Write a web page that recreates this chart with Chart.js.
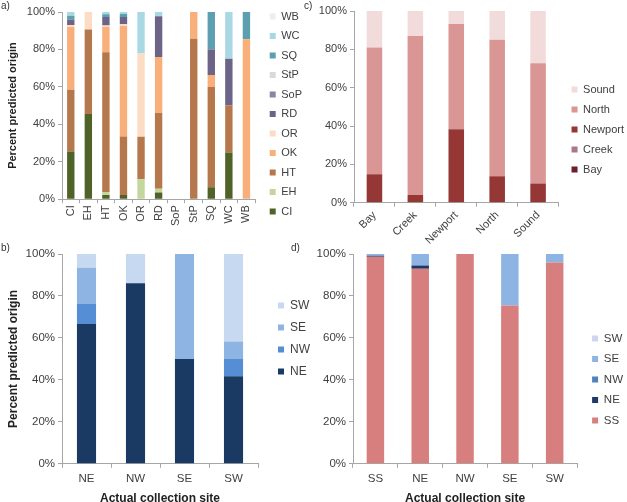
<!DOCTYPE html>
<html><head><meta charset="utf-8">
<script src="https://cdn.jsdelivr.net/npm/chart.js@4"></script>
<style>
body{margin:0;background:#fff;width:627px;height:502px;position:relative;overflow:hidden;font-family:"Liberation Sans",Arial,sans-serif;}
canvas{position:absolute;}
.lab{position:absolute;font-size:10px;color:#333;line-height:10px;}
</style></head><body>
<canvas id="ca" width="306" height="228" style="left:0;top:0"></canvas>
<canvas id="cc" width="330" height="249" style="left:300px;top:0"></canvas>
<canvas id="cb" width="310" height="261" style="left:0;top:245px"></canvas>
<canvas id="cd" width="317" height="261" style="left:310px;top:245px"></canvas>
<div class="lab" style="left:1px;top:1px">a)</div>
<div class="lab" style="left:304px;top:1px">c)</div>
<div class="lab" style="left:1px;top:243px">b)</div>
<div class="lab" style="left:291px;top:243px">d)</div>
<script>
// ---------- Panel a data ----------
const aCategories = ['CI','EH','HT','OK','OR','RD','SoP','StP','SQ','WC','WB'];
const aCI  = [25.5, 45.5, 2.3, 2.2, 0, 3.6, 0, 0, 6.4, 25, 0];
const aEH  = [0, 0, 1.5, 0, 10.7, 2, 0, 0, 0, 0, 0];
const aHT  = [33, 45.2, 74.7, 31.3, 22.6, 40.4, 0, 85.7, 53.6, 25, 0];
const aOK  = [33.5, 0, 13.5, 59, 0, 30, 0, 14.3, 6.4, 0, 85.5];
const aOR  = [1, 9.3, 0.8, 1, 44.5, 0, 0, 0, 0, 0, 0];
const aRD  = [3, 0, 4.5, 3.8, 0, 21.7, 0, 0, 13.6, 25, 0];
const aSoP = [0, 0, 0, 0, 0, 0, 0, 0, 0, 0, 0];
const aStP = [0, 0, 0, 0, 0, 0, 0, 0, 0, 0, 0];
const aSQ  = [2, 0, 1.5, 1.6, 0, 0, 0, 0, 20, 0, 14.5];
const aWC  = [2, 0, 1.2, 1.1, 22.2, 2.3, 0, 0, 0, 25, 0];
const aWB  = [0, 0, 0, 0, 0, 0, 0, 0, 0, 0, 0];

// ---------- Panel c data ----------
const cCategories = ['Bay','Creek','Newport','North','Sound'];
const cBay     = [0, 0, 0, 0, 0];
const cCreek   = [0, 0, 0, 0, 0];
const cNewport = [14.9, 4, 38.3, 13.8, 10];
const cNorth   = [66.1, 82.9, 54.9, 71.2, 62.7];
const cSound   = [19, 13.1, 6.8, 15, 27.3];

// ---------- Panel b data ----------
const bCategories = ['NE','NW','SE','SW'];
const bNE = [66.6, 86, 50, 41.7];
const bNW = [9.6, 0, 0, 8.3];
const bSE = [17.3, 0, 50, 8.3];
const bSW = [6.5, 14, 0, 41.7];

// ---------- Panel d data ----------
const dCategories = ['SS','NE','NW','SE','SW'];
const dSS = [98.7, 93, 100, 75.5, 96];
const dNE = [0.5, 1.5, 0, 0, 0];
const dNW = [0, 0, 0, 0, 0];
const dSE = [0.8, 5.5, 0, 24.5, 4];
const dSW = [0, 0, 0, 0, 0];

const yTicks = [0, 20, 40, 60, 80, 100];
const yTitle = 'Percent predicted origin';
const xTitle = 'Actual collection site';

const FONT = '"Liberation Sans", Arial, sans-serif';
const AX = '#a6a6a6';
const TXT = '#404040';

const legendShift = {
  id: 'legendShift',
  afterLayout(chart, args, opts) {
    const l = chart.legend;
    if (!l) return;
    if (opts.dx) { l.left += opts.dx; l.right += opts.dx; }
    if (opts.dy) { l.top += opts.dy; l.bottom += opts.dy; }
  }
};

function stackChart(id, cats, series, o) {
  new Chart(document.getElementById(id), {
    type: 'bar',
    data: {
      labels: cats,
      datasets: series.map(s => ({
        label: s[0], data: s[1], backgroundColor: s[2], borderWidth: 0,
        barPercentage: o.bar, categoryPercentage: 1
      }))
    },
    options: {
      responsive: false, animation: false, devicePixelRatio: 1,
      layout: { padding: { left: 0, right: o.padR, top: 0, bottom: 0 } },
      plugins: {
        legend: { position: 'right', reverse: true,
          labels: { boxWidth: 6, boxHeight: 6, padding: o.legPad, color: TXT,
            font: { size: o.legFont, family: FONT } } },
        tooltip: { enabled: false },
        legendShift: { dx: o.dx, dy: o.dy }
      },
      scales: {
        x: {
          stacked: true,
          grid: { offset: true, drawOnChartArea: false, tickLength: 4, color: AX },
          border: { color: AX },
          ticks: { color: TXT, font: { size: o.tickFont, family: FONT },
            minRotation: o.rot, maxRotation: o.rot, padding: o.xPad, autoSkip: false },
          title: { display: !!o.xTitle, text: o.xTitle || '', color: '#222',
            font: { size: o.titleFont, weight: 'bold', family: FONT }, padding: { top: 2, bottom: 0 } }
        },
        y: {
          stacked: true, min: 0, max: 100,
          afterBuildTicks: s => { s.ticks = yTicks.map(v => ({ value: v })); },
          grid: { drawOnChartArea: false, tickLength: 4, color: AX },
          border: { color: AX },
          ticks: { color: TXT, font: { size: o.tickFont, family: FONT }, padding: 3,
            callback: v => v + '%' },
          title: { display: !!o.yTitle, text: o.yTitle || '', color: '#222',
            font: { size: o.titleFont, weight: 'bold', family: FONT }, padding: { top: 6, bottom: 0 } },
          afterFit: s => { s.width = o.yw; s.paddingTop = o.top; }
        }
      }
    },
    plugins: [legendShift]
  });
}

stackChart('ca', aCategories, [
  ['CI', aCI, '#4f6228'], ['EH', aEH, '#c3d69b'], ['HT', aHT, '#b5784c'],
  ['OK', aOK, '#f8af79'], ['OR', aOR, '#fcdcc4'], ['RD', aRD, '#6c6486'],
  ['SoP', aSoP, '#8b85a1'], ['StP', aStP, '#d9d9d9'], ['SQ', aSQ, '#5b9fb0'],
  ['WC', aWC, '#a8d8e3'], ['WB', aWB, '#eeeeee']
], { bar: 0.42, padR: 0, legPad: 8.5, legFont: 11, tickFont: 11, rot: 90, xPad: 2,
     yTitle: yTitle, titleFont: 11, yw: 62, top: 12, dx: 6, dy: 0 });

stackChart('cc', cCategories, [
  ['Bay', cBay, '#6b1f2b'], ['Creek', cCreek, '#a97a85'], ['Newport', cNewport, '#953735'],
  ['North', cNorth, '#d99694'], ['Sound', cSound, '#f2dcdb']
], { bar: 0.38, padR: 0, legPad: 9, legFont: 11, tickFont: 11, rot: 45, xPad: 2,
     titleFont: 11, yw: 54, top: 11, dx: 4, dy: 5 });

stackChart('cb', bCategories, [
  ['NE', bNE, '#1b3a63'], ['NW', bNW, '#558ed5'], ['SE', bSE, '#8eb4e3'], ['SW', bSW, '#c6d9f1']
], { bar: 0.39, padR: 0, legPad: 10, legFont: 12, tickFont: 11.5, rot: 0, xPad: 4,
     yTitle: yTitle, xTitle: xTitle, titleFont: 12, yw: 62, top: 9, dx: 10, dy: -37 });

stackChart('cd', dCategories, [
  ['SS', dSS, '#d77f7e'], ['NE', dNE, '#1f3864'], ['NW', dNW, '#4f81bd'],
  ['SE', dSE, '#8eb4e3'], ['SW', dSW, '#ccd6ee']
], { bar: 0.39, padR: 0, legPad: 9, legFont: 11.5, tickFont: 11.5, rot: 0, xPad: 4,
     xTitle: xTitle, titleFont: 12, yw: 43, top: 9, dx: 6, dy: 4 });
</script>
</body></html>
